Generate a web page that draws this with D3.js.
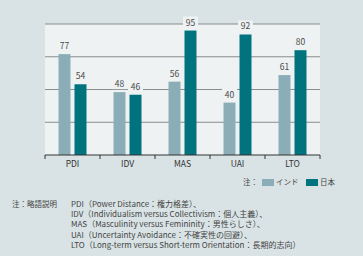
<!DOCTYPE html>
<html lang="ja">
<head>
    <meta charset="UTF-8">
    <title>PDI IDV MAS UAI LTO</title>
    <script src="https://cdn.jsdelivr.net/npm/d3@7"></script>
    <style>
        body { margin: 0; background: #d9e3e5; }
        text { font-family: "Noto Sans CJK JP", "Noto Sans", sans-serif; }
    </style>
</head>
<body>
<svg width="363" height="256"></svg>
<script>
    var categories = ['PDI', 'IDV', 'MAS', 'UAI', 'LTO'];
    var seriesNames = ['インド', '日本'];
    var india = [77, 48, 56, 40, 61];
    var japan = [54, 46, 95, 92, 80];
    var gridTicks = [0, 25, 50, 75, 100];
    var notes = [
        'PDI（Power Distance：権力格差）、',
        'IDV（Individualism versus Collectivism：個人主義）、',
        'MAS（Masculinity versus Femininity：男性らしさ）、',
        'UAI（Uncertainty Avoidance：不確実性の回避）、',
        'LTO（Long-term versus Short-term Orientation：長期的志向）'
    ];

    var colors = ['#8badb7', '#00737f'];
    var plot = {left: 45, right: 320, top: 24, bottom: 155};

    var svg = d3.select('svg');

    svg.append('rect')
        .attr('width', 363).attr('height', 256)
        .attr('fill', '#d9e3e5');

    svg.append('rect')
        .attr('x', plot.left).attr('y', plot.top)
        .attr('width', plot.right - plot.left)
        .attr('height', plot.bottom - plot.top)
        .attr('fill', '#eff2f3');

    var x0 = d3.scaleBand()
        .domain(categories)
        .range([plot.left, plot.right]);

    var x1 = d3.scaleBand()
        .domain(seriesNames)
        .range([13.5, 41.5])
        .paddingInner(0.25);

    var y = d3.scaleLinear()
        .domain([0, 100])
        .range([plot.bottom, plot.top]);

    // 网格线
    svg.append('g')
        .selectAll('line')
        .data(gridTicks.slice(1))
        .enter()
        .append('line')
        .attr('x1', plot.left).attr('x2', plot.right)
        .attr('y1', function (d) { return y(d); })
        .attr('y2', function (d) { return y(d); })
        .attr('stroke', '#6f7374')
        .attr('stroke-width', 0.8);

    var rows = categories.map(function (c, i) {
        return {cat: c, values: [india[i], japan[i]]};
    });

    var groups = svg.selectAll('.grp')
        .data(rows)
        .enter()
        .append('g')
        .attr('transform', function (d) { return 'translate(' + x0(d.cat) + ',0)'; });

    groups.selectAll('rect')
        .data(function (d) { return d.values.map(function (v, k) { return {name: seriesNames[k], v: v, k: k}; }); })
        .enter()
        .append('rect')
        .attr('x', function (d) { return x1(d.name); })
        .attr('width', x1.bandwidth())
        .attr('y', function (d) { return y(d.v); })
        .attr('height', function (d) { return y(0) - y(d.v); })
        .attr('fill', function (d) { return colors[d.k]; });

    // 数值标签 (背景遮住网格线)
    var labels = groups.selectAll('.lab')
        .data(function (d) { return d.values.map(function (v, k) { return {name: seriesNames[k], v: v, k: k}; }); })
        .enter()
        .append('g');

    labels.append('rect')
        .attr('x', function (d) { return x1(d.name) + x1.bandwidth() / 2 - 7.5; })
        .attr('y', function (d) { return y(d.v) - 14; })
        .attr('width', 15).attr('height', 11)
        .attr('fill', '#eff2f3');

    labels.append('text')
        .attr('x', function (d) { return x1(d.name) + x1.bandwidth() / 2; })
        .attr('y', function (d) { return y(d.v) - 5; })
        .attr('text-anchor', 'middle')
        .attr('font-size', 8.5)
        .attr('fill', '#4a4a4a')
        .text(function (d) { return d.v; });

    // x 轴
    var xAxis = d3.axisBottom(x0).tickSize(0).tickPadding(6);
    var ax = svg.append('g')
        .attr('transform', 'translate(0,' + plot.bottom + ')')
        .call(xAxis);
    ax.select('.domain').remove();
    ax.selectAll('text')
        .attr('font-size', 8.5)
        .attr('fill', '#333')
        .attr('font-family', '"Noto Sans CJK JP", sans-serif');

    svg.append('line')
        .attr('x1', plot.left).attr('x2', plot.right)
        .attr('y1', plot.bottom).attr('y2', plot.bottom)
        .attr('stroke', '#333').attr('stroke-width', 1);

    var edges = categories.map(function (c) { return x0(c); }).concat([plot.right]);
    svg.append('g')
        .selectAll('line')
        .data(edges)
        .enter()
        .append('line')
        .attr('x1', function (d) { return d; })
        .attr('x2', function (d) { return d; })
        .attr('y1', plot.bottom).attr('y2', plot.bottom + 4)
        .attr('stroke', '#333').attr('stroke-width', 1);

    // 图例
    var legend = svg.append('g');
    legend.append('text')
        .attr('x', 243).attr('y', 185)
        .attr('font-size', 7.5).attr('fill', '#444')
        .text('注：');
    var legX = [262, 306];
    seriesNames.forEach(function (n, k) {
        legend.append('rect')
            .attr('x', legX[k]).attr('y', 179)
            .attr('width', 12).attr('height', 7)
            .attr('fill', colors[k]);
        legend.append('text')
            .attr('x', legX[k] + 14).attr('y', 185)
            .attr('font-size', 7.5).attr('fill', '#444')
            .text(n);
    });

    // 注释
    svg.append('text')
        .attr('x', 12).attr('y', 207)
        .attr('font-size', 7.5).attr('fill', '#444')
        .text('注：略語説明');
    svg.append('g')
        .selectAll('text')
        .data(notes)
        .enter()
        .append('text')
        .attr('x', 71)
        .attr('y', function (d, i) { return 207 + i * 10.2; })
        .attr('font-size', 8)
        .attr('fill', '#444')
        .text(function (d) { return d; });
</script>
</body>
</html>
